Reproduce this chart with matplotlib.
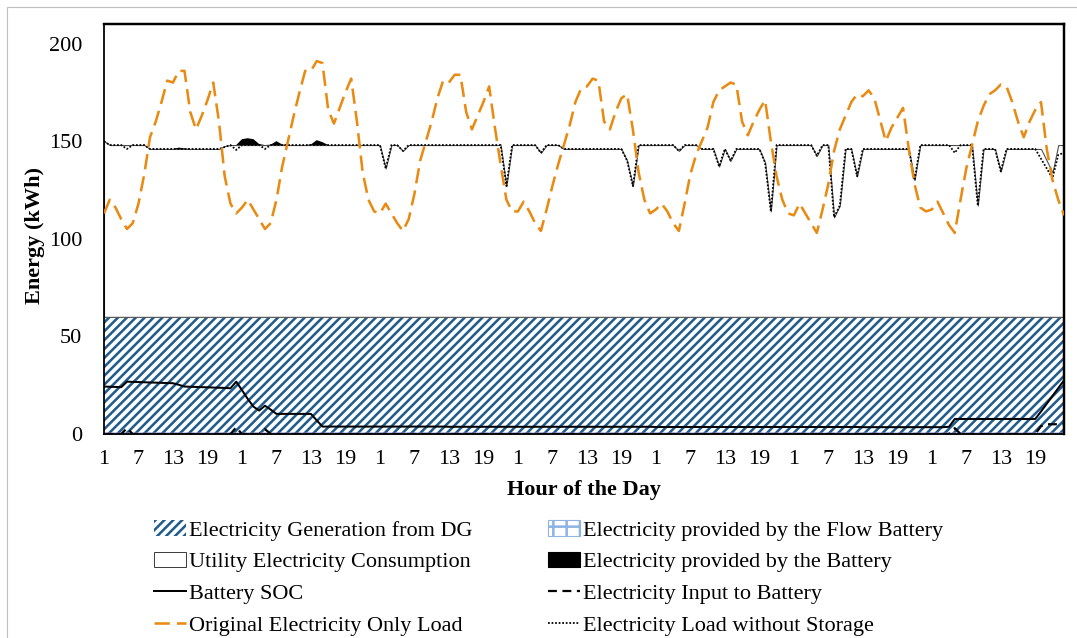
import matplotlib
matplotlib.use("Agg")
import matplotlib.pyplot as plt
from matplotlib.patches import Patch, Rectangle
from matplotlib.lines import Line2D
import numpy as np

# ---------------- data ----------------
hours = list(range(1, 169))
tick_hours = list(range(1, 169, 6))
tick_labels = ["1", "7", "13", "19"] * 7

dg_generation = [60] * 168
flow_battery = [0] * 168

original_load = [
    113, 120, 116, 110, 105, 108, 118, 133, 152, 160, 170, 181, 180, 186, 186, 165, 156, 163, 171, 180, 160, 132, 118, 113,
    116, 120, 115, 110, 105, 108, 120, 137, 150, 163, 175, 186, 186, 191, 190, 166, 159, 167, 175, 182, 160, 134, 120, 114,
    113, 118, 113, 108, 104, 110, 123, 140, 150, 160, 172, 181, 180, 184, 184, 165, 156, 163, 170, 178, 157, 138, 120, 114,
    114, 119, 114, 108, 104, 115, 127, 138, 148, 158, 170, 177, 178, 182, 181, 160, 156, 165, 172, 174, 156, 134, 120, 113,
    115, 118, 114, 108, 104, 118, 133, 143, 150, 157, 170, 176, 178, 180, 179, 160, 153, 160, 166, 171, 150, 132, 120, 113,
    112, 118, 113, 108, 103, 115, 128, 145, 156, 163, 170, 174, 173, 176, 172, 161, 150, 157, 162, 167, 146, 128, 116, 114,
    115, 119, 113, 107, 103, 120, 136, 148, 160, 168, 174, 176, 179, 178, 170, 160, 152, 160, 166, 170, 146, 130, 120, 112,
]

utility_consumption = [
    90, 88, 88, 88, 88, 88, 88, 88, 86, 86, 86, 86, 86, 86, 86, 86, 86, 86, 86, 86, 86, 87.5, 88, 88,
    88, 88, 88, 88, 88, 88, 88, 88, 88, 88, 88, 88, 88, 88, 88, 88, 88, 88, 88, 88, 88, 88, 88, 88,
    88, 76, 88, 88, 85, 88, 88, 88, 88, 88, 88, 88, 88, 88, 88, 88, 88, 88, 88, 88, 88, 88, 67, 88,
    88, 88, 88, 88, 84, 88, 88, 88, 86, 86, 86, 86, 86, 86, 86, 86, 86, 86, 86, 80, 67, 88, 88, 88,
    88, 88, 88, 88, 85, 88, 88, 88, 86, 86, 86, 77, 86, 80, 86, 86, 86, 86, 86, 79, 54, 88, 88, 88,
    88, 88, 88, 88, 82.5, 88, 88, 51, 57, 86, 86, 72, 86, 86, 86, 86, 86, 86, 86, 86, 86, 70, 88, 88,
    88, 88, 88, 88, 88, 88, 88, 88, 57, 86, 86, 86, 74.5, 86, 86, 86, 86, 86, 86, 86, 80, 74, 88, 88,
]

battery_output = [
    0, 0, 0, 0, 0, 0, 0, 0, 0, 0, 0, 0, 0, 0.7, 0.3, 0, 0, 0, 0, 0, 0, 0, 0, 0,
    3.0, 3.5, 3.0, 0.5, 0, 0.2, 2.0, 0.3, 0, 0, 0, 0, 0.3, 2.5, 1.5, 0, 0, 0, 0, 0, 0, 0, 0, 0,
    0, 0, 0, 0, 0, 0, 0, 0, 0, 0, 0, 0, 0, 0, 0, 0, 0, 0, 0, 0, 0, 0, 0, 0,
    0, 0, 0, 0, 0, 0, 0, 0, 0, 0, 0, 0, 0, 0, 0, 0, 0, 0, 0, 0, 0, 0, 0, 0,
    0, 0, 0, 0, 0, 0, 0, 0, 0, 0, 0, 0, 0, 0, 0, 0, 0, 0, 0, 0, 0, 0, 0, 0,
    0, 0, 0, 0, 0, 0, 0, 0, 0, 0, 0, 0, 0, 0, 0, 0, 0, 0, 0, 0, 0, 0, 0, 0,
    0, 0, 0, 0, 0, 0, 0, 0, 0, 0, 0, 0, 0, 0, 0, 0, 0, 0, 0, 0, 0, 0, 0, 0,
]

load_without_storage = [
    150, 148, 148, 148, 146, 148, 148, 148, 146, 146, 146, 146, 146, 146, 146, 146, 146, 146, 146, 146, 146, 147, 148, 145.5,
    148, 148, 148, 148, 146, 148, 148, 148, 148, 148, 148, 148, 148, 148, 148, 148, 148, 148, 148, 148, 148, 148, 148, 148,
    148, 136, 148, 148, 145, 148, 148, 148, 148, 148, 148, 148, 148, 148, 148, 148, 148, 148, 148, 148, 148, 148, 127, 148,
    148, 148, 148, 148, 144, 148, 148, 148, 146, 146, 146, 146, 146, 146, 146, 146, 146, 146, 146, 140, 127, 148, 148, 148,
    148, 148, 148, 148, 145, 148, 148, 148, 146, 146, 146, 137, 146, 140, 146, 146, 146, 146, 146, 139, 114, 148, 148, 148,
    148, 148, 148, 148, 142.5, 148, 148, 111, 117, 146, 146, 132, 146, 146, 146, 146, 146, 146, 146, 146, 146, 130, 148, 148,
    148, 148, 148, 148, 144, 148, 148, 148, 117, 146, 146, 146, 134.5, 146, 146, 146, 146, 146, 146, 141, 136, 131, 143, 144,
]

battery_soc = [
    24.3, 24.2, 24.1, 24.0, 26.8, 26.7, 26.6, 26.5, 26.4, 26.3, 26.2, 26.1, 26.0, 25.2, 24.3, 24.2, 24.1, 24.0, 23.9, 23.8, 23.7, 23.6, 23.4, 26.8,
    22.5, 18.0, 14.0, 12.0, 14.5, 12.5, 10.3, 10.3, 10.3, 10.3, 10.3, 10.3, 10.3, 7.0, 3.8, 3.8, 3.8, 3.8, 3.8, 3.8, 3.8, 3.8, 3.8, 3.8,
    3.8, 3.8, 3.8, 3.8, 3.8, 3.8, 3.8, 3.8, 3.8, 3.8, 3.8, 3.8, 3.7, 3.7, 3.7, 3.7, 3.7, 3.7, 3.7, 3.7, 3.7, 3.7, 3.7, 3.7,
    3.7, 3.7, 3.7, 3.7, 3.7, 3.7, 3.7, 3.7, 3.7, 3.7, 3.7, 3.7, 3.7, 3.7, 3.7, 3.7, 3.7, 3.7, 3.7, 3.7, 3.7, 3.7, 3.7, 3.7,
    3.6, 3.6, 3.6, 3.6, 3.6, 3.6, 3.6, 3.6, 3.6, 3.6, 3.6, 3.6, 3.6, 3.6, 3.6, 3.6, 3.6, 3.6, 3.6, 3.6, 3.6, 3.6, 3.6, 3.6,
    3.6, 3.6, 3.6, 3.6, 3.6, 3.6, 3.6, 3.6, 3.6, 3.6, 3.6, 3.6, 3.5, 3.5, 3.5, 3.5, 3.5, 3.5, 3.5, 3.5, 3.5, 3.5, 3.5, 3.5,
    3.5, 3.5, 3.5, 3.7, 7.7, 7.7, 7.7, 7.7, 7.7, 7.7, 7.7, 7.7, 7.7, 7.7, 7.7, 7.7, 7.7, 7.7, 7.7, 11.5, 15.5, 19.5, 23.5, 27.5,
]

battery_input = [
    0, 0, 0, 0, 3.0, 0, 0, 0, 0, 0, 0, 0, 0, 0, 0, 0, 0, 0, 0, 0, 0, 0, 0, 3.4,
    0, 0, 0, 0, 2.5, 0, 0, 0, 0, 0, 0, 0, 0, 0, 0, 0, 0, 0, 0, 0, 0, 0, 0, 0,
    0, 0, 0, 0, 0, 0, 0, 0, 0, 0, 0, 0, 0, 0, 0, 0, 0, 0, 0, 0, 0, 0, 0, 0,
    0, 0, 0, 0, 0, 0, 0, 0, 0, 0, 0, 0, 0, 0, 0, 0, 0, 0, 0, 0, 0, 0, 0, 0,
    0, 0, 0, 0, 0, 0, 0, 0, 0, 0, 0, 0, 0, 0, 0, 0, 0, 0, 0, 0, 0, 0, 0, 0,
    0, 0, 0, 0, 0, 0, 0, 0, 0, 0, 0, 0, 0, 0, 0, 0, 0, 0, 0, 0, 0, 0, 0, 0,
    0, 0, 0, 0, 3.0, 0, 0, 0, 0, 0, 0, 0, 0, 0, 0, 0, 0, 0, 0, 4.0, 5.0, 5.0, 5.0, 5.0,
]

legend_labels = [
    "Electricity Generation from DG", "Utility Electricity Consumption",
    "Battery SOC", "Original Electricity Only Load",
    "Electricity provided by the Flow Battery", "Electricity provided by the Battery",
    "Electricity Input to Battery", "Electricity Load without Storage",
]

# ---------------- style ----------------
BLUE = "#215C8E"
ORANGE = "#E98A12"
FLOW = "#8FB4E3"
FS = 20

plt.rcParams["font.family"] = ["Liberation Serif", "DejaVu Serif"]
plt.rcParams["hatch.linewidth"] = 2.3
plt.rcParams["hatch.color"] = BLUE

W, H, DPI = 1077, 638, 80
fig = plt.figure(figsize=(W / DPI, H / DPI), dpi=DPI)
fig.patch.set_facecolor("white")

L, R, T, B = 104, 1064, 24, 434
ax = fig.add_axes([L / W, 1 - B / H, (R - L) / W, (B - T) / H])

x = np.array(hours, dtype=float)
dg = np.array(dg_generation, dtype=float)
util = np.array(utility_consumption, dtype=float)
batt = np.array(battery_output, dtype=float)
flow = np.array(flow_battery, dtype=float)

# stacked areas
ax.fill_between(x, 0, dg, facecolor="white", edgecolor=BLUE, hatch="///", linewidth=0, zorder=1)
ax.fill_between(x, dg, dg + util, facecolor="white", edgecolor="#505050", linewidth=1.0, zorder=2)
ax.fill_between(x, dg + util, dg + util + batt, facecolor="black", edgecolor="none", linewidth=0, zorder=3)
ax.fill_between(x, 0, flow, facecolor=FLOW, edgecolor="#9A8FC8", linewidth=2.2, zorder=2)

# lines
ax.plot(x, load_without_storage, color="black", linestyle=(0, (1, 1)), linewidth=1.6, zorder=5)
ax.plot(x, original_load, color=ORANGE, linestyle=(0, (6, 2.8)), linewidth=2.3, zorder=6)
ax.plot(x, battery_soc, color="black", linewidth=1.8, zorder=7)
ax.plot(x, battery_input, color="black", linestyle=(0, (4, 2.5)), linewidth=2.0, zorder=7)

ax.set_xlim(1, 168)
ax.set_ylim(0, 210)
ax.set_yticks([0, 50, 100, 150, 200])
ax.set_xticks(tick_hours)
ax.set_xticklabels(tick_labels)
ax.tick_params(axis="both", length=0, labelsize=FS)
ax.tick_params(axis="y", pad=19.5)
ax.tick_params(axis="x", pad=14)

for side, sp in ax.spines.items():
    sp.set_color("black")
    sp.set_linewidth(1.6)
ax.spines["top"].set_linewidth(2.2)
ax.spines["right"].set_linewidth(2.2)

fig.text(584 / W, 1 - 490 / H, "Hour of the Day", ha="center", va="center",
         fontsize=FS, fontweight="bold")
fig.text(35 / W, 1 - 236 / H, "Energy (kWh)", ha="center", va="center",
         rotation=90, fontsize=FS, fontweight="bold")

# legend
h_dg = Patch(facecolor="white", edgecolor=BLUE, hatch="///", linewidth=0)
h_util = Patch(facecolor="white", edgecolor="#404040", linewidth=0.9)
h_soc = Line2D([], [], color="black", linewidth=1.8)
h_orig = Line2D([], [], color=ORANGE, linestyle=(0, (6, 2.8)), linewidth=2.3)
h_flow = Patch(facecolor="white", edgecolor=FLOW, hatch="+", linewidth=1.0)
h_batt = Patch(facecolor="black", edgecolor="black")
h_inp = Line2D([], [], color="black", linestyle=(0, (4, 2.5)), linewidth=2.0)
h_wo = Line2D([], [], color="black", linestyle=(0, (1, 1)), linewidth=1.6)

common = dict(loc="upper left", frameon=False, borderpad=0, borderaxespad=0,
              handlelength=1.45, handletextpad=0.12, labelspacing=0.5,
              fontsize=FS, bbox_transform=fig.transFigure)
leg1 = fig.legend([h_dg, h_util, h_soc, h_orig], legend_labels[0:4],
                  bbox_to_anchor=(154 / W, 1 - 520 / H), **common)
leg2 = fig.legend([h_flow, h_batt, h_inp, h_wo], legend_labels[4:8],
                  bbox_to_anchor=(548 / W, 1 - 520 / H), **common)

# outer chart-area frame (top and left visible)
fig.patches.append(Rectangle((7 / W, -0.5), 2.0, 1.5 - 6.5 / H, transform=fig.transFigure,
                             fill=False, edgecolor="#BFBFBF", linewidth=1.0))

fig.savefig("out.png", dpi=DPI, facecolor="white")
